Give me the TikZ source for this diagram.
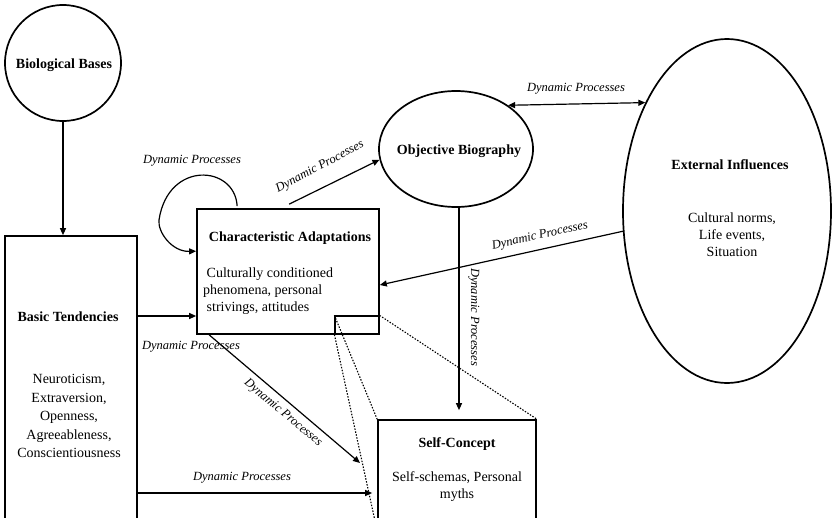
\documentclass[tikz,border=0pt]{standalone}
\usepackage{fontspec}
\setmainfont{Liberation Serif}
\usetikzlibrary{arrows.meta,shapes.geometric}
\begin{document}
\begin{tikzpicture}[x=1pt,y=-1pt,
  outline/.style={draw, line width=1.7pt, inner sep=0pt},
  panel/.style={outline, rectangle},
  oval/.style={outline, ellipse},
  arr/.style={line width=1.2pt, -{Triangle[length=7pt,width=6pt]}},
  arrboth/.style={line width=1.2pt, {Triangle[length=7pt,width=6pt]}-{Triangle[length=7pt,width=6pt]}},
  zoomline/.style={line width=1.1pt, dash pattern=on 1.5pt off 1.5pt},
  title/.style={font=\fontsize{14}{17}\selectfont\bfseries, inner sep=0pt},
  body/.style={font=\fontsize{14}{17}\selectfont, align=center, inner sep=0pt},
  dyn/.style={font=\fontsize{12.5}{15}\selectfont\itshape, inner sep=0pt}]

\useasboundingbox (0,0) rectangle (833,517);
\clip (0,0) rectangle (833,517);

% main shapes
\node[outline, circle, minimum size=116pt] (bio) at (63,63) {};
\node[panel, minimum width=132pt, minimum height=294pt] (bt) at (71,383) {};
\node[panel, minimum width=182pt, minimum height=125pt] (ca) at (288,271.5) {};
\node[panel, line width=1.2pt, minimum width=44pt, minimum height=18pt] (zr) at (357,325) {};
\node[oval, minimum width=154pt, minimum height=116pt] (ob) at (456,149) {};
\node[oval, minimum width=208pt, minimum height=344pt] (ei) at (727,211) {};
\node[panel, minimum width=158pt, minimum height=110pt] (sc) at (457,475) {};

% texts inside the shapes
\node[title] (bio-t) at (64,65) {Biological Bases};
\node[title] (bt-t) at (68,317) {Basic Tendencies};
\node[body, font=\fontsize{14}{18.5}\selectfont] (bt-b) at (69,416)
  {Neuroticism,\\Extraversion,\\Openness,\\Agreeableness,\\Conscientiousness};
\node[title] (ca-t) at (290,238) {Characteristic Adaptations};
\node[body, align=left, anchor=west] (ca-b) at (203,291)
  {\ Culturally conditioned\\phenomena, personal\\\ strivings, attitudes};
\node[title] (ob-t) at (459,151) {Objective Biography};
\node[title] (ei-t) at (730,165) {External Influences};
\node[body] (ei-b) at (732,235) {Cultural norms,\\Life events,\\Situation};
\node[title] (sc-t) at (457,444) {Self-Concept};
\node[body] (sc-b) at (457,487) {Self-schemas, Personal\\myths};

% helper coordinates for straight connectors
\coordinate (yA) at (0,316);
\coordinate (yB) at (0,493);
\coordinate (yC) at (0,285);
\coordinate (xD) at (459,0);
\coordinate (dg) at (360,463);

% connectors
\draw[arr] (bio.south) -- (bio.south |- bt.north);
\draw[arr] (yA -| bt.east) -- (yA -| ca.west);
\draw[arr, shorten >=5pt] (yB -| bt.east) -- (yB -| sc.west);
\draw[arr] ([xshift=13pt]ca.south west) -- (dg);
\draw[arr] ([xshift=41pt,yshift=2pt]ca.north west)
  .. controls (235,165) and (168,160) .. (159,220)
  .. controls (157.5,232) and (172,252) .. ([yshift=-43pt]ca.north west);
\draw[arr] ([shift={(93pt,4pt)}]ca.north west) -- (ob.188);
\draw[arrboth] (ob.40) -- (ei.127);
\draw[arr] (ei.191.5) -- (yC -| ca.east);
\draw[arr, shorten >=9pt] (xD |- ob.south) -- (xD |- sc.north);

% magnifier lines
\draw[zoomline] (zr.north west) -- (sc.north west);
\draw[zoomline] (zr.south west) -- (sc.south west);
\draw[zoomline] (zr.north east) -- (sc.north east);

% connector labels
\node[dyn] (l1) at (192,161) {Dynamic Processes};
\node[dyn, rotate=28] (l2) at (320,167) {Dynamic Processes};
\node[dyn] (l3) at (576,89) {Dynamic Processes};
\node[dyn, rotate=12.4] (l4) at (540,236) {Dynamic Processes};
\node[dyn, rotate=-90] (l5) at (474,317) {Dynamic Processes};
\node[dyn] (l6) at (191,347) {Dynamic Processes};
\node[dyn, rotate=-40] (l7) at (283,413) {Dynamic Processes};
\node[dyn] (l8) at (242,478) {Dynamic Processes};
\end{tikzpicture}
\end{document}
